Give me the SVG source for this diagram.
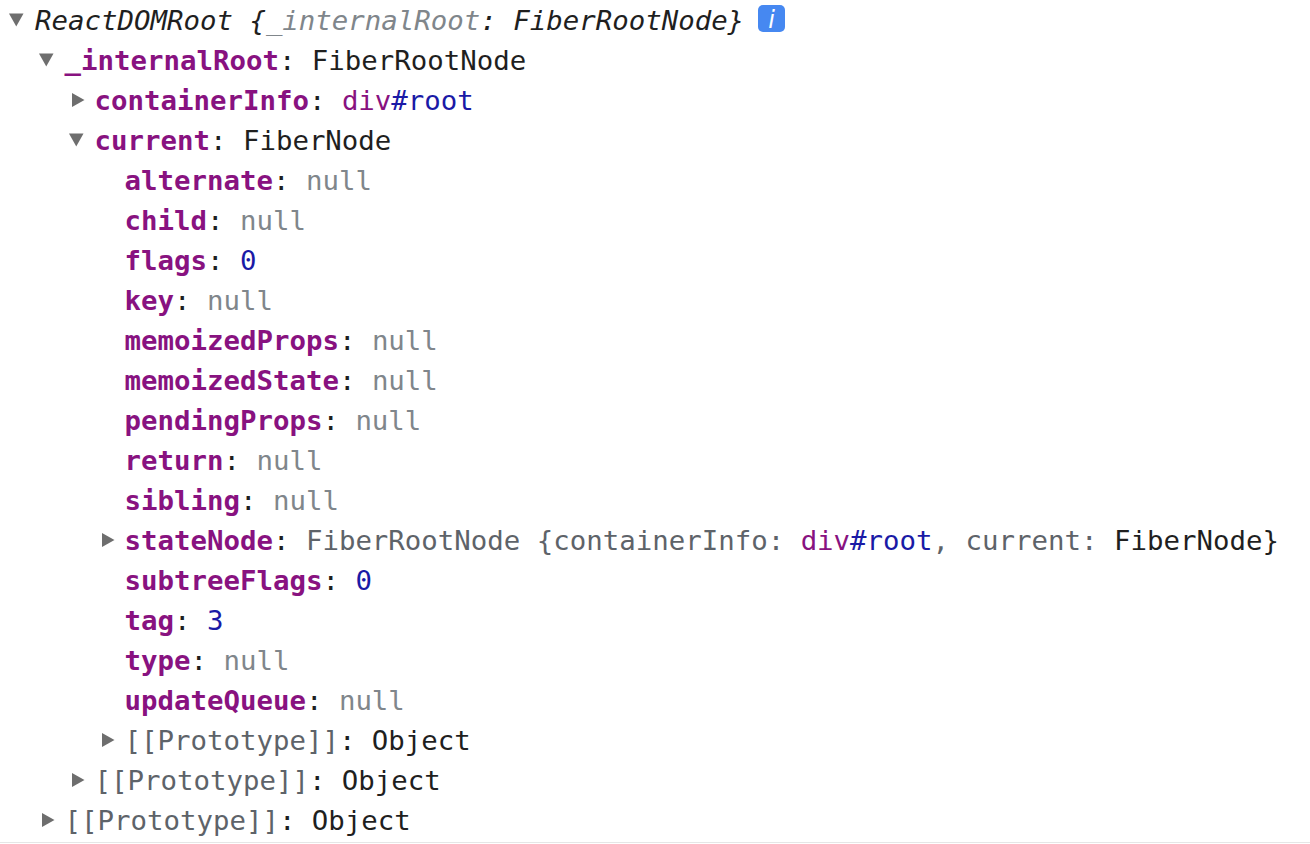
<svg xmlns="http://www.w3.org/2000/svg" width="1310" height="844" viewBox="0 0 1310 844">
<style>
text{font-family:"DejaVu Sans Mono","Liberation Mono",monospace;font-size:27.4px;fill:#1f1f1f}
.k{fill:#881280;font-weight:bold}
.n{fill:#80868b}
.num{fill:#1a1aa6}
.tag{fill:#881280}
.id{fill:#1a1aa6}
.g{fill:#5e6369}
.it{font-style:italic}
.tri{fill:#6e6e6e}
</style>
<defs>
<polygon id="down" class="tri" points="0,0 14.5,0 7.25,13"/>
<polygon id="right" class="tri" points="0,0 0,14 12.5,7"/>
</defs>
<rect width="1310" height="844" fill="#ffffff"/>
<line x1="0" y1="842.5" x2="1310" y2="842.5" stroke="#e6e6e6" stroke-width="1"/>

<g id="row0">
<use href="#down" x="9" y="13.5"/>
<text x="35" y="30" class="it">ReactDOMRoot {<tspan class="n">_internalRoot</tspan>: FiberRootNode}</text>
<rect x="758" y="5" width="27" height="27" rx="5" fill="#4688f1"/>
<text x="771.5" y="28" text-anchor="middle" style="fill:#ffffff;font-family:'DejaVu Sans',sans-serif;font-style:italic;font-size:24px">i</text>
</g>
<g id="row1">
<use href="#down" x="39" y="53.5"/>
<text x="64.5" y="70"><tspan class="k">_internalRoot</tspan>: FiberRootNode</text>
</g>
<g id="row2">
<use href="#right" x="72" y="93"/>
<text x="94.5" y="110"><tspan class="k">containerInfo</tspan>: <tspan class="tag">div</tspan><tspan class="id">#root</tspan></text>
</g>
<g id="row3">
<use href="#down" x="69" y="133.5"/>
<text x="94.5" y="150"><tspan class="k">current</tspan>: FiberNode</text>
</g>
<g id="row4"><text x="124.5" y="190"><tspan class="k">alternate</tspan>: <tspan class="n">null</tspan></text></g>
<g id="row5"><text x="124.5" y="230"><tspan class="k">child</tspan>: <tspan class="n">null</tspan></text></g>
<g id="row6"><text x="124.5" y="270"><tspan class="k">flags</tspan>: <tspan class="num">0</tspan></text></g>
<g id="row7"><text x="124.5" y="310"><tspan class="k">key</tspan>: <tspan class="n">null</tspan></text></g>
<g id="row8"><text x="124.5" y="350"><tspan class="k">memoizedProps</tspan>: <tspan class="n">null</tspan></text></g>
<g id="row9"><text x="124.5" y="390"><tspan class="k">memoizedState</tspan>: <tspan class="n">null</tspan></text></g>
<g id="row10"><text x="124.5" y="430"><tspan class="k">pendingProps</tspan>: <tspan class="n">null</tspan></text></g>
<g id="row11"><text x="124.5" y="470"><tspan class="k">return</tspan>: <tspan class="n">null</tspan></text></g>
<g id="row12"><text x="124.5" y="510"><tspan class="k">sibling</tspan>: <tspan class="n">null</tspan></text></g>
<g id="row13">
<use href="#right" x="102" y="533"/>
<text x="124.5" y="550"><tspan class="k">stateNode</tspan>: <tspan class="g">FiberRootNode {containerInfo: </tspan><tspan class="tag">div</tspan><tspan class="id">#root</tspan><tspan class="g">, current: </tspan>FiberNode}</text>
</g>
<g id="row14"><text x="124.5" y="590"><tspan class="k">subtreeFlags</tspan>: <tspan class="num">0</tspan></text></g>
<g id="row15"><text x="124.5" y="630"><tspan class="k">tag</tspan>: <tspan class="num">3</tspan></text></g>
<g id="row16"><text x="124.5" y="670"><tspan class="k">type</tspan>: <tspan class="n">null</tspan></text></g>
<g id="row17"><text x="124.5" y="710"><tspan class="k">updateQueue</tspan>: <tspan class="n">null</tspan></text></g>
<g id="row18">
<use href="#right" x="102" y="733"/>
<text x="124.5" y="750"><tspan class="g">[[Prototype]]</tspan>: Object</text>
</g>
<g id="row19">
<use href="#right" x="72" y="773"/>
<text x="94.5" y="790"><tspan class="g">[[Prototype]]</tspan>: Object</text>
</g>
<g id="row20">
<use href="#right" x="42" y="813"/>
<text x="64.5" y="830"><tspan class="g">[[Prototype]]</tspan>: Object</text>
</g>
</svg>
